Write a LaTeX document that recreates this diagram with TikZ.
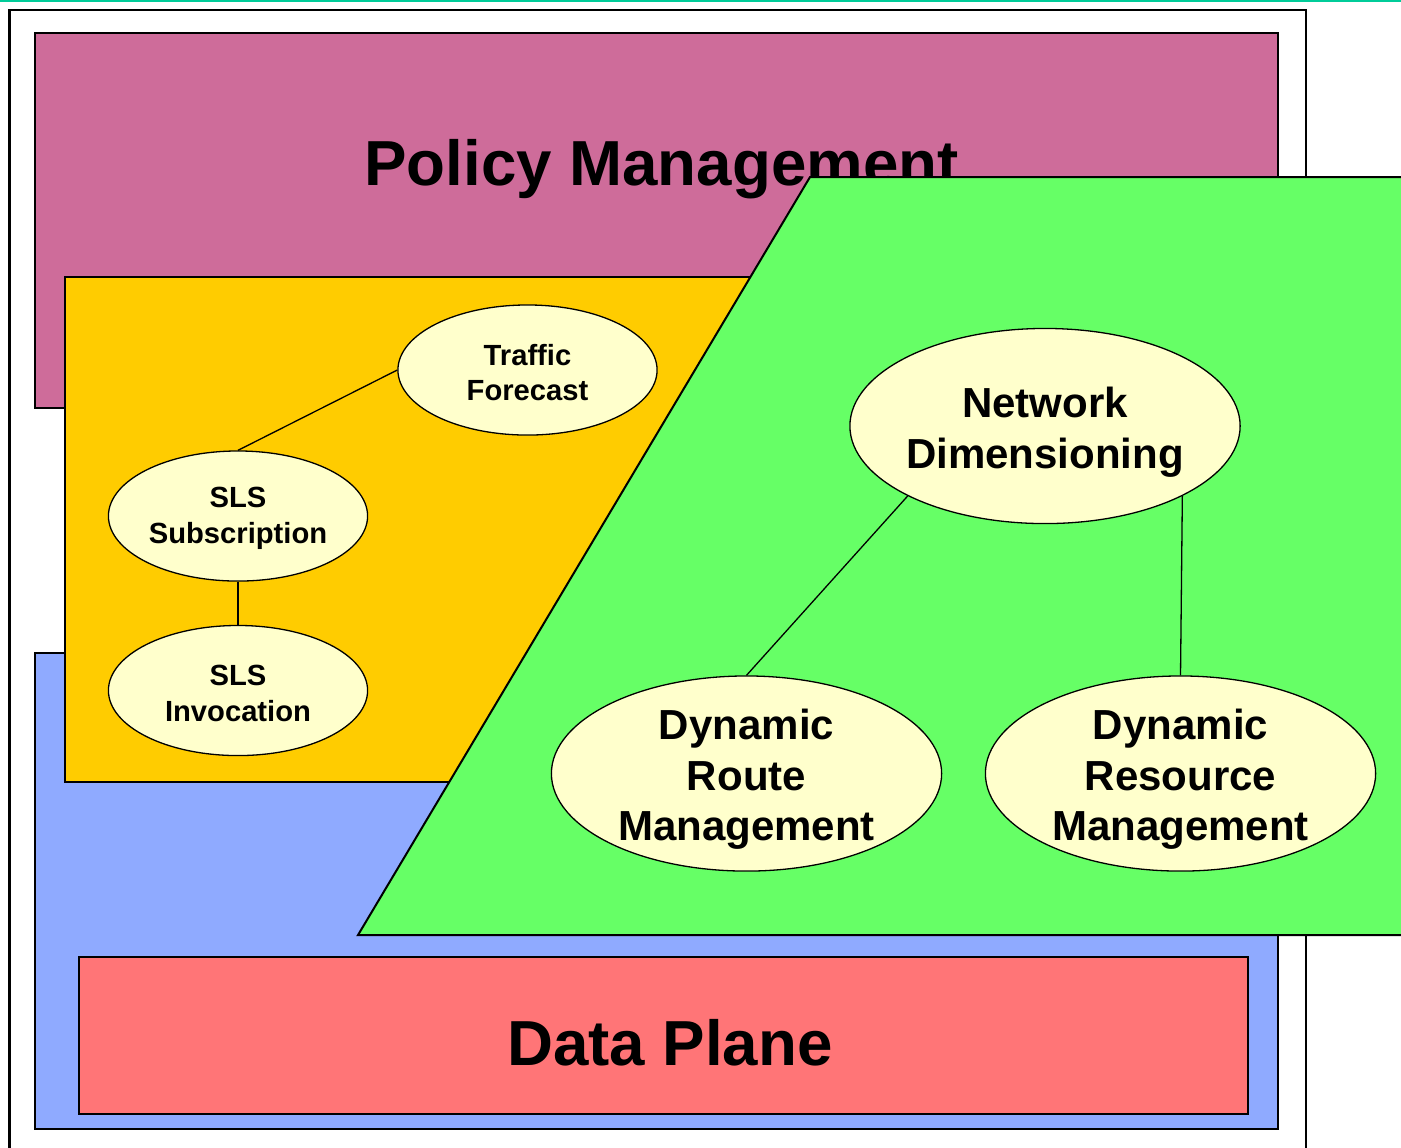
\documentclass[tikz,border=0pt]{standalone}
\usepackage{fontspec}
\setmainfont{Liberation Sans}
\usetikzlibrary{shapes.geometric}
\definecolor{policyc}{RGB}{206,108,154}
\definecolor{servc}{RGB}{255,204,0}
\definecolor{trafc}{RGB}{102,255,102}
\definecolor{planec}{RGB}{143,170,255}
\definecolor{datac}{RGB}{255,117,119}
\definecolor{fnc}{RGB}{255,255,204}
\definecolor{rulec}{RGB}{0,204,153}
\begin{document}
\begin{tikzpicture}[x=0.01cm,y=-0.01cm,
    box/.style={draw,line width=0.57pt},
    fn/.style={ellipse,draw,fill=fnc,line width=0.37pt,inner sep=0pt},
    small/.style={fn,minimum width=2.59cm,minimum height=1.30cm,
      label={[font=\bfseries\fontsize{8.3}{10.2}\selectfont,align=center,yshift=-0.025cm]center:#1}},
    big/.style={fn,minimum width=3.90cm,minimum height=1.95cm,
      label={[font=\bfseries\fontsize{11.95}{14.4}\selectfont,align=center,yshift=-0.06cm]center:#1}},
    title/.style={anchor=base,inner sep=0pt,font=\bfseries\fontsize{18.1}{21}\selectfont}]
  \useasboundingbox (0,0) rectangle (1401,1147);
  \clip (0,0) rectangle (1401,1147);
  \draw[rulec,line width=0.57pt] (0,1) -- (1401,1);
  \draw[box,fill=white] (9.5,9.5) rectangle (1306,1200);
  \draw[box,fill=policyc] (35,33) rectangle (1278,408);
  \node[title] (pm) at (661.5,185) {Policy Management};
  \draw[box,fill=planec] (35,653) rectangle (1278,1129);
  \draw[box,fill=datac] (79,957) rectangle (1248,1114);
  \node[title] (dp) at (670,1065) {Data Plane};
  \draw[box,fill=servc] (65,277) rectangle (1000,782);
  \draw[box,fill=trafc] (810,177) -- (1450,177) -- (1450,935) -- (358,935) -- cycle;
  \path
    (527.5,370) node[small={Traffic\\Forecast}] (tf) {}
    (238,516) node[small={SLS\\Subscription}] (sub) {}
    (238,690.5) node[small={SLS\\Invocation}] (inv) {}
    (1045,426) node[big={Network\\Dimensioning}] (nd) {}
    (746.5,773.5) node[big={Dynamic\\Route\\Management}] (drm) {}
    (1180.5,773.5) node[big={Dynamic\\Resource\\Management}] (dres) {};
  \begin{scope}[line width=0.37pt]
    \draw (tf.west) to (sub.north);
    \draw (sub.south) to (inv.north);
    \draw (nd.207) to (drm.north);
    \draw (nd.333) to (dres.north);
  \end{scope}
\end{tikzpicture}
\end{document}
